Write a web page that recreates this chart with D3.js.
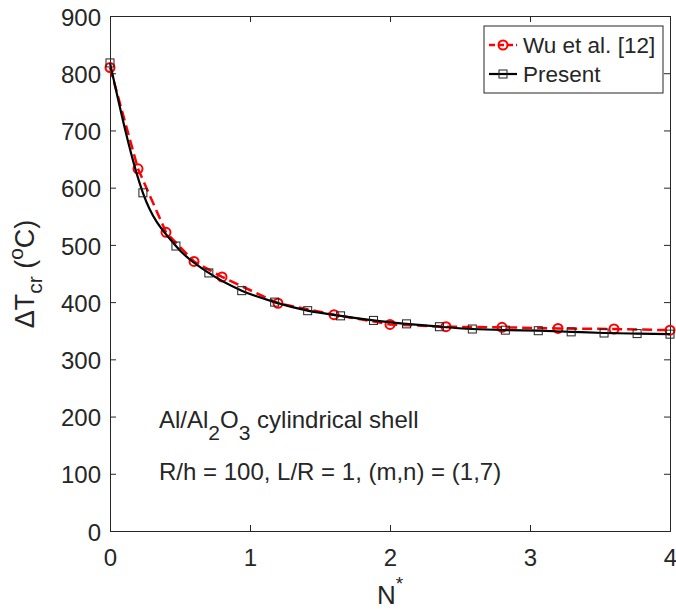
<!DOCTYPE html>
<html>
<head>
<meta charset="UTF-8">
<title>Critical temperature vs N*</title>
<style>
body { margin: 0; background: #fff; }
text { font-family: "Liberation Sans", Arial, sans-serif; fill: #262626; }
</style>
</head>
<body>
<div id="graph"></div>
<script src="https://d3js.org/d3.v7.min.js"></script>
<script>
// data
var wuN = [0, 0.2, 0.4, 0.6, 0.8, 1.2, 1.6, 2.0, 2.4, 2.8, 3.2, 3.6, 4.0];
var wuT = [810, 633, 522, 471, 444, 398, 378, 361, 357, 356, 354, 353, 351];

var presentN = [0, 0.235, 0.471, 0.706, 0.941, 1.176, 1.412, 1.647, 1.882, 2.118,
                2.353, 2.588, 2.824, 3.059, 3.294, 3.529, 3.765, 4.0];
var presentT = [818, 591, 498, 451, 420, 400, 385, 376, 368, 362,
                357, 353, 351, 350, 348, 346, 345, 344];

var xTicks = [0, 1, 2, 3, 4];
var yTicks = [0, 100, 200, 300, 400, 500, 600, 700, 800, 900];

var width = 676, height = 612;
var plotLeft = 110, plotRight = 670, plotTop = 16, plotBottom = 531;

var svg = d3.select("#graph").append("svg")
    .attr("width", width)
    .attr("height", height);

var x = d3.scaleLinear().domain([0, 4]).range([plotLeft, plotRight]);
var y = d3.scaleLinear().domain([0, 900]).range([plotBottom, plotTop]);

var axisColor = "#262626";

// axes, ticks inward on all four sides
svg.append("g")
    .attr("transform", "translate(0," + plotBottom + ")")
    .call(d3.axisBottom(x).tickValues(xTicks).tickSize(-6).tickPadding(18).tickFormat(d3.format("d")))
    .call(function (g) { g.selectAll("text").attr("font-size", 24); });
svg.append("g")
    .attr("transform", "translate(" + plotLeft + ",0)")
    .call(d3.axisLeft(y).tickValues(yTicks).tickSize(-6).tickPadding(9))
    .call(function (g) { g.selectAll("text").attr("font-size", 24).attr("dy", "0.38em"); });
svg.append("g")
    .attr("transform", "translate(0," + plotTop + ")")
    .call(d3.axisTop(x).tickValues(xTicks).tickSize(-6).tickFormat(""));
svg.append("g")
    .attr("transform", "translate(" + plotRight + ",0)")
    .call(d3.axisRight(y).tickValues(yTicks).tickSize(-6).tickFormat(""));

svg.selectAll(".domain").attr("stroke", axisColor);
svg.selectAll(".tick line").attr("stroke", axisColor);
svg.selectAll(".tick text").attr("font-family", "Liberation Sans, Arial, sans-serif").style("fill", axisColor);

// Wu et al. — red dashed with circles
var wu = wuN.map(function (d, i) { return [d, wuT[i]]; });
svg.append("path")
    .datum(wu)
    .attr("fill", "none")
    .attr("stroke", "#ff0000")
    .attr("stroke-width", 2.5)
    .attr("stroke-dasharray", "10,5")
    .attr("d", d3.line().x(function (d) { return x(d[0]); }).y(function (d) { return y(d[1]); }));
svg.append("g").selectAll("circle")
    .data(wu)
    .enter().append("circle")
    .attr("cx", function (d) { return x(d[0]); })
    .attr("cy", function (d) { return y(d[1]); })
    .attr("r", 4.5)
    .attr("fill", "none")
    .attr("stroke", "#ff0000")
    .attr("stroke-width", 2);

// Present — black solid with squares
var pres = presentN.map(function (d, i) { return [d, presentT[i]]; });
svg.append("path")
    .datum(pres)
    .attr("fill", "none")
    .attr("stroke", "#000")
    .attr("stroke-width", 2.2)
    .attr("d", d3.line().curve(d3.curveMonotoneX)
        .x(function (d) { return x(d[0]); }).y(function (d) { return y(d[1]); }));
svg.append("g").selectAll("rect")
    .data(pres)
    .enter().append("rect")
    .attr("x", function (d) { return x(d[0]) - 4; })
    .attr("y", function (d) { return y(d[1]) - 4; })
    .attr("width", 8)
    .attr("height", 8)
    .attr("fill", "none")
    .attr("stroke", "#222")
    .attr("stroke-width", 1);

// axis labels
var ylab = svg.append("text")
    .attr("transform", "translate(34,274) rotate(-90)")
    .attr("text-anchor", "middle")
    .attr("font-size", 27);
ylab.append("tspan").text("\u0394T");
ylab.append("tspan").attr("font-size", 21).attr("dy", 8).text("cr");
ylab.append("tspan").attr("dy", -8).text(" (");
ylab.append("tspan").attr("font-size", 21).attr("dy", -11).text("o");
ylab.append("tspan").attr("dy", 11).text("C)");

var xlab = svg.append("text")
    .attr("x", 390)
    .attr("y", 604)
    .attr("text-anchor", "middle")
    .attr("font-size", 26);
xlab.append("tspan").text("N");
xlab.append("tspan").attr("font-size", 19).attr("dy", -14).text("*");

// annotation
var t1 = svg.append("text").attr("x", 159).attr("y", 428).attr("font-size", 24);
t1.append("tspan").text("Al/Al");
t1.append("tspan").attr("font-size", 21).attr("dy", 12).text("2");
t1.append("tspan").attr("dy", -12).text("O");
t1.append("tspan").attr("font-size", 21).attr("dy", 12).text("3");
t1.append("tspan").attr("dy", -12).text(" cylindrical shell");
svg.append("text").attr("x", 159).attr("y", 480).attr("font-size", 24)
    .text("R/h = 100, L/R = 1, (m,n) = (1,7)");

// legend
var lg = svg.append("g");
lg.append("rect")
    .attr("x", 484).attr("y", 26).attr("width", 179).attr("height", 67)
    .attr("fill", "#fff").attr("stroke", axisColor).attr("stroke-width", 1);
lg.append("line").attr("x1", 489).attr("x2", 517).attr("y1", 45).attr("y2", 45)
    .attr("stroke", "#ff0000").attr("stroke-width", 2.5).attr("stroke-dasharray", "6,3");
lg.append("circle").attr("cx", 503).attr("cy", 45).attr("r", 4.5)
    .attr("fill", "none").attr("stroke", "#ff0000").attr("stroke-width", 2);
lg.append("text").attr("x", 523).attr("y", 53).attr("font-size", 22.5).text("Wu et al. [12]");
lg.append("line").attr("x1", 489).attr("x2", 517).attr("y1", 74).attr("y2", 74)
    .attr("stroke", "#000").attr("stroke-width", 2.2);
lg.append("rect").attr("x", 499).attr("y", 70).attr("width", 8).attr("height", 8)
    .attr("fill", "none").attr("stroke", "#222").attr("stroke-width", 1);
lg.append("text").attr("x", 523).attr("y", 82).attr("font-size", 22.5).text("Present");
</script>
</body>
</html>
